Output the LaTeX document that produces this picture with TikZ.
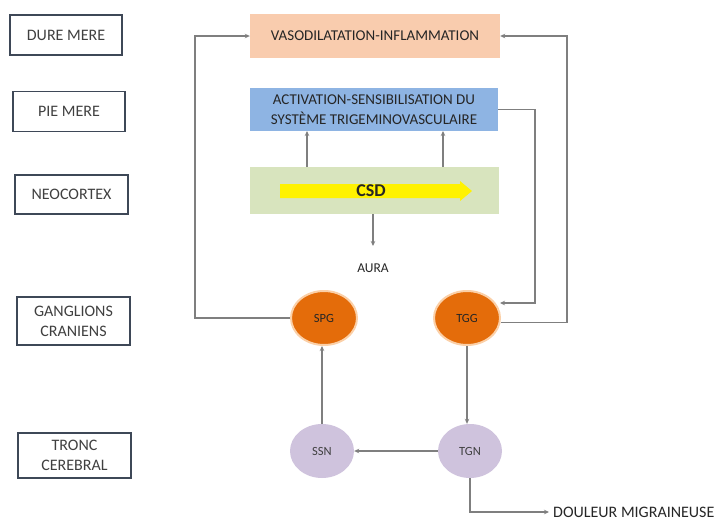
\documentclass[tikz,border=0pt]{standalone}
\usepackage{fontspec}
\setmainfont{Carlito}
\usetikzlibrary{arrows.meta,shapes.geometric}
\definecolor{boxc}{HTML}{3E4857}
\definecolor{txtg}{HTML}{404040}
\definecolor{txtd}{HTML}{262626}
\definecolor{peach}{HTML}{F9CCAE}
\definecolor{bluec}{HTML}{8EB4E3}
\definecolor{greenc}{HTML}{D8E4BE}
\definecolor{orangec}{HTML}{E46C0A}
\definecolor{glowc}{HTML}{FBD0A8}
\definecolor{lavc}{HTML}{CFC3DD}
\definecolor{linec}{HTML}{7F7F7F}
\begin{document}
\begin{tikzpicture}[x=1pt,y=-1pt,
  lbox/.style={draw=boxc, line width=1.6pt, fill=white, minimum width=112pt, minimum height=40pt,
    font=\fontsize{16}{20}\selectfont, text=txtg, align=center, inner sep=0pt},
  tbox/.style={minimum width=249pt, minimum height=44pt, inner sep=0pt, align=center,
    font=\fontsize{15}{19.5}\selectfont, text=txtd},
  gang/.style={ellipse, fill=orangec, draw=glowc, line width=2pt, minimum width=66pt, minimum height=54pt,
    inner sep=0pt, font=\fontsize{12.5}{14}\selectfont, text=txtd},
  tronc/.style={ellipse, fill=lavc, minimum width=64pt, minimum height=54pt,
    inner sep=0pt, font=\fontsize{12.5}{14}\selectfont, text=txtg},
  arr/.style={draw=linec, line width=1.3pt, -{Stealth[length=5pt,width=4.5pt]}},
  lbl/.style={inner sep=0pt, text=txtd}
]
\useasboundingbox (0,0) rectangle (726,520);

% left labels
\node[lbox] (dure) at (66,35) {DURE MERE};
\node[lbox] (pie) at (69,111.5) {PIE MERE};
\node[lbox, minimum width=113pt, minimum height=39pt] (neo) at (71.5,194.5) {NEOCORTEX};
\node[lbox, minimum width=113pt, minimum height=48pt] (gang) at (73.5,321) {GANGLIONS\\CRANIENS};
\node[lbox, minimum width=113pt, minimum height=45pt] (tronc) at (74.5,455.5) {TRONC\\CEREBRAL};

% central boxes
\node[tbox, fill=peach, minimum width=250pt] (vaso) at (375,36) {VASODILATATION-INFLAMMATION};
\node[tbox, fill=bluec, minimum width=248pt, minimum height=43pt] (act) at (374,109.5)
  {ACTIVATION-SENSIBILISATION DU\\SYSTÈME TRIGEMINOVASCULAIRE};
\node[tbox, fill=greenc, minimum height=47pt] (csd) at (374.5,190.5) {};
\fill[yellow] (280,184) -- (460,184) -- (460,181) -- (472,191) -- (460,201) -- (460,198) -- (280,198) -- cycle;
\node[lbl, font=\fontsize{18}{20}\selectfont\bfseries] (csdt) at (371,191) {CSD};
\node[lbl, font=\fontsize{13.5}{15}\selectfont] (aura) at (373,268) {AURA};

% ganglia and nuclei
\node[gang] (spg) at (324,318) {SPG};
\node[gang] (tgg) at (467,318) {TGG};
\node[tronc] (ssn) at (322,451) {SSN};
\node[tronc] (tgn) at (470,451) {TGN};

\node[lbl, anchor=west, font=\fontsize{16}{18}\selectfont] (dou) at (553,512) {DOULEUR MIGRAINEUSE};

% helper coordinates
\coordinate (lc) at (195,36);
\coordinate (rc1) at (535,303);
\coordinate (tggin) at (500,303);
\coordinate (rc2) at (567,36);
\coordinate (csd1) at (307,167);
\coordinate (act1) at (307,131);
\coordinate (csd2) at (443,167);
\coordinate (act2) at (443,131);
\coordinate (aurain) at (373,246);

% connectors
\draw[arr] (csd1) -- (act1);
\draw[arr] (csd2) -- (act2);
\draw[arr] (csd.south -| aurain) -- (aurain);
\draw[arr] (spg.west) -| (lc) -- (vaso.west);
\draw[arr] (act.east) -| (rc1) -- (tggin);
\draw[arr] (tgg.-8) -| (rc2) -- (vaso.east);
\draw[arr] (ssn.north) -- (ssn.north |- spg.south);
\draw[arr] (tgg.south) -- (tgg.south |- tgn.north);
\draw[arr] (tgn.west) -- (tgn.west -| ssn.east);
\draw[arr] (tgn.south) |- ([xshift=-4pt]dou.west);
\end{tikzpicture}
\end{document}
